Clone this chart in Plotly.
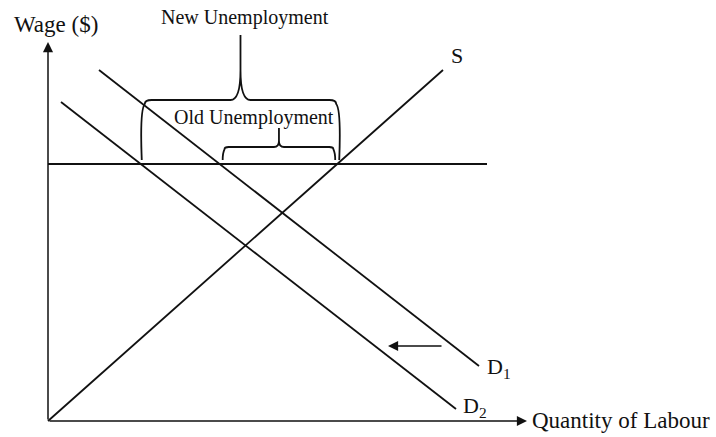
import plotly.graph_objects as go

# ---- data (economic units: quantity of labour, wage) ----
supply_q = [0, 395]
supply_w = [0, 351]
d1_q = [51, 431]
d1_w = [351, 55]
d2_q = [13, 408]
d2_w = [319, 12]
wage_floor = 257
floor_q_end = 439
x_axis_end = 479
y_axis_end = 379
shift_from_q = 395
shift_to_q = 340
shift_w = 75

FONT = "Liberation Serif"
INK = "#111111"


def q_at(qs, ws, w):
    return qs[0] + (w - ws[0]) * (qs[1] - qs[0]) / (ws[1] - ws[0])


q_d2 = q_at(d2_q, d2_w, wage_floor)
q_d1 = q_at(d1_q, d1_w, wage_floor)
q_s = q_at(supply_q, supply_w, wage_floor)

fig = go.Figure()
for qs, ws in [(supply_q, supply_w), (d1_q, d1_w), (d2_q, d2_w),
               ([0, floor_q_end], [wage_floor, wage_floor])]:
    fig.add_trace(go.Scatter(x=qs, y=ws, mode="lines",
                             line=dict(color=INK, width=1.8),
                             hoverinfo="skip", showlegend=False))


def brace(x0, x1, yb, yt, ypk, r, c, h, bend=0):
    xm = (x0 + x1) / 2
    return (f"M{x0},{yb} Q{x0 - bend},{yt - r} {x0 + r * 0.3},{yt - r * 0.4} "
            f"Q{x0 + r * 0.3},{yt} {x0 + r},{yt} L{xm - c},{yt} Q{xm},{yt} {xm},{yt + h} L{xm},{ypk} "
            f"M{xm},{yt + h} Q{xm},{yt} {xm + c},{yt} L{x1 - r},{yt} "
            f"Q{x1 - r * 0.3},{yt} {x1 - r * 0.3},{yt - r * 0.4} Q{x1 + bend},{yt - r} {x1},{yb}")


shapes = [
    dict(type="path", xref="x", yref="y",
         path=brace(q_d2 + 1, q_s + 2, wage_floor + 4, 321, 386, 10, 10, 30, bend=2),
         line=dict(color=INK, width=1.8)),
    dict(type="path", xref="x", yref="y",
         path=brace(q_d1 + 3, q_s - 2, wage_floor + 4, 274, 293, 6, 5, 6),
         line=dict(color=INK, width=1.8)),
]

ann = []
# axes with arrowheads
ann.append(dict(x=0, y=y_axis_end, ax=0, ay=0, xref="x", yref="y", axref="x", ayref="y",
                text="", showarrow=True, arrowhead=2, arrowsize=1.35, arrowwidth=1.5,
                arrowcolor=INK, standoff=0))
ann.append(dict(x=x_axis_end, y=0, ax=0, ay=0, xref="x", yref="y", axref="x", ayref="y",
                text="", showarrow=True, arrowhead=2, arrowsize=1.35, arrowwidth=1.5,
                arrowcolor=INK, standoff=0))
# shift arrow
ann.append(dict(x=shift_to_q, y=shift_w, ax=shift_from_q, ay=shift_w, xref="x", yref="y",
                axref="x", ayref="y", text="", showarrow=True, arrowhead=2, arrowsize=1.35,
                arrowwidth=1.5, arrowcolor=INK, standoff=0))


def label(text, x, y, size, xanchor="center", yanchor="middle"):
    ann.append(dict(x=x, y=y, xref="x", yref="y", text=text, showarrow=False,
                    xanchor=xanchor, yanchor=yanchor,
                    font=dict(family=FONT, size=size, color=INK)))


label("Wage ($)", 8, 397, 23)
label("New Unemployment", 197, 404, 20)
label("Old Unemployment", 206, 304, 20)
label("S", 409, 366, 22)
label("D<sub>1</sub>", 451, 53, 22)
label("D<sub>2</sub>", 427, 14, 22)
label("Quantity of Labour", 482, 1, 23, xanchor="left")

fig.update_layout(
    width=716, height=437,
    margin=dict(l=0, r=0, t=0, b=0),
    paper_bgcolor="white", plot_bgcolor="white",
    xaxis=dict(range=[-48, 668], visible=False, fixedrange=True),
    yaxis=dict(range=[-16, 421], visible=False, fixedrange=True),
    shapes=shapes, annotations=ann, showlegend=False,
)
fig.write_html("out.html", config={"displayModeBar": False},
               post_script="document.body.style.margin='0px';document.body.style.overflow='hidden';")
